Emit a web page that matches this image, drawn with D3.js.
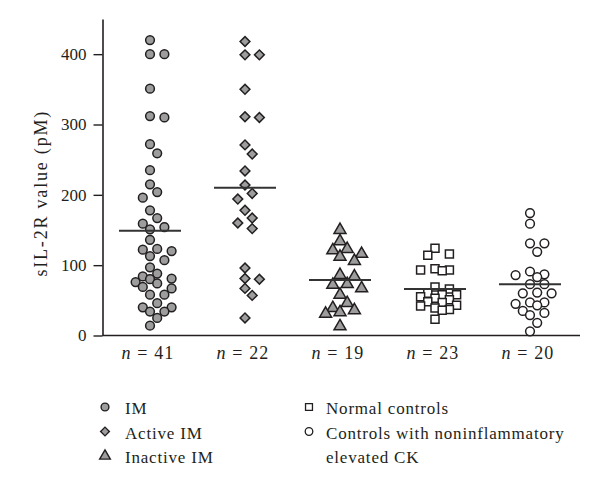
<!DOCTYPE html>
<html>
<head>
<meta charset="utf-8">
<script src="https://cdn.jsdelivr.net/npm/d3@7/dist/d3.min.js"></script>
<style>
  html, body { margin: 0; padding: 0; background: #fff; }
  svg { display: block; }
  text { font-family: "Liberation Serif", "Times New Roman", serif; fill: #231f20; }
</style>
</head>
<body>
<svg id="chart" width="600" height="489"></svg>
<script>
// ---------------- data ----------------
const groups = ["IM", "Active IM", "Inactive IM", "Normal controls", "Controls with noninflammatory elevated CK"];
const nCounts = [41, 22, 19, 23, 20];
const imValues = [420, 400, 400, 351, 312, 310, 272, 259, 235, 215, 204, 196, 178, 167, 159, 154, 151,
  136, 123, 122, 120, 113, 107, 97, 88, 84, 81, 80, 76, 74, 69, 67, 58, 58, 46, 40, 40, 34, 34, 25, 14];
const activeValues = [418, 399, 399, 350, 311, 310, 271, 258, 234, 214, 202, 194, 178, 167, 160, 152,
  96, 81, 80, 67, 57, 25];
const inactiveValues = [150, 134, 123, 121, 116, 112, 106, 86, 84, 73, 72, 67, 58, 46, 39, 36, 33, 31, 13];
const normalValues = [124, 116, 114, 95, 93, 93, 92, 69, 66, 60, 58, 58, 55, 53, 51, 48, 47, 43, 42, 39, 37, 36, 23];
const ckValues = [174, 159, 131, 131, 119, 91, 87, 86, 83, 73, 73, 61, 60, 60, 47, 47, 45, 43, 35, 32, 29, 18, 6];
const meanValues = [149, 210, 79, 66, 73];
const yTicks = [0, 100, 200, 300, 400];
const yTitle = "sIL-2R value (pM)";
const legendLeft = ["IM", "Active IM", "Inactive IM"];
const legendRight = [["Normal controls"], ["Controls with noninflammatory", "elevated CK"]];

const seriesValues = [imValues, activeValues, inactiveValues, normalValues, ckValues];

// ---------------- styles ----------------
const GRAY = "#9d9d9d";
const DARK = "#231f20";
const markerStyles = [
  { type: d3.symbolCircle, size: 60, rotate: 0, fill: GRAY },
  { type: d3.symbolSquare, size: 48, rotate: 45, fill: GRAY },
  { type: d3.symbolTriangle, size: 62, rotate: 0, fill: GRAY },
  { type: d3.symbolSquare, size: 64, rotate: 0, fill: "#fff" },
  { type: d3.symbolCircle, size: 60, rotate: 0, fill: "#fff" }
];

// ---------------- scales ----------------
const svg = d3.select("#chart");
const y = d3.scaleLinear().domain([0, 450]).range([335.5, 19]);
const x = d3.scaleBand().domain(groups).range([102.5, 577.5]);
const xAxisEnd = 580;

// y axis
const yAxis = d3.axisLeft(y).tickValues(yTicks).tickSize(9).tickSizeOuter(0).tickPadding(7);
const gy = svg.append("g").attr("transform", `translate(${x.range()[0]},0)`).call(yAxis);
gy.select(".domain").attr("stroke", DARK).attr("stroke-width", 1.6);
gy.selectAll(".tick line").attr("stroke", DARK).attr("stroke-width", 1.4);
gy.selectAll(".tick text").attr("font-size", 17).attr("font-family", "Liberation Serif").attr("fill", DARK);

// x axis baseline
const xAxis = d3.axisBottom(x).tickSize(0).tickSizeOuter(0).tickFormat("");
const gx = svg.append("g").attr("transform", `translate(0,${y(0)})`).call(xAxis);
gx.select(".domain").attr("d", `M${x.range()[0]},0H${xAxisEnd}`).attr("stroke", DARK).attr("stroke-width", 1.6);

// n labels
groups.forEach((g, i) => {
  const t = svg.append("text")
    .attr("x", x(g) + x.bandwidth() / 2 - 2)
    .attr("y", y(0) + 23)
    .attr("text-anchor", "middle")
    .attr("font-size", 18)
    .attr("letter-spacing", 1.1);
  t.append("tspan").attr("font-style", "italic").text("n");
  t.append("tspan").text(" = " + nCounts[i]);
});

// y title
svg.append("text")
  .attr("transform", `translate(47,${(y(0) + y(450)) / 2 + 16}) rotate(-90)`)
  .attr("text-anchor", "middle")
  .attr("font-size", 18)
  .attr("letter-spacing", 1.8)
  .text(yTitle);

// ---------------- beeswarm layout (columns, limited width) ----------------
const step = 7.2, minDist = 9.2;
const columnOrder = [0, 1, -1, 2, -2, 3];
function swarm(values, cx) {
  const pts = values.map(v => ({ v, y: y(v) })).sort((a, b) => a.y - b.y);
  const placed = [];
  pts.forEach(p => {
    let best = null, bestD = -1;
    for (const c of columnOrder) {
      const off = c * step;
      const dmin = placed.length ? d3.min(placed, q => Math.hypot(q.dx - off, q.y - p.y)) : Infinity;
      if (dmin >= minDist) { best = off; break; }
      if (dmin > bestD + 0.5) { bestD = dmin; best = off; }
    }
    p.dx = best;
    placed.push(p);
  });
  return pts.map(p => ({ x: cx + p.dx, y: p.y, v: p.v }));
}

function symbolPath(st) {
  return d3.symbol().type(st.type).size(st.size)();
}

groups.forEach((g, i) => {
  const cx = x(g) + x.bandwidth() / 2;
  const st = markerStyles[i];
  const pts = swarm(seriesValues[i], cx);
  svg.append("g").selectAll("path").data(pts).join("path")
    .attr("d", symbolPath(st))
    .attr("transform", d => `translate(${d.x},${d.y}) rotate(${st.rotate})`)
    .attr("fill", st.fill)
    .attr("stroke", DARK)
    .attr("stroke-width", 1.5);
  // mean line
  svg.append("line")
    .attr("x1", cx - 31).attr("x2", cx + 31)
    .attr("y1", y(meanValues[i])).attr("y2", y(meanValues[i]))
    .attr("stroke", "#333").attr("stroke-width", 2);
});

// ---------------- legend ----------------
const legendRows = [408, 432.5, 457];
const legendFont = 17;
legendLeft.forEach((lab, i) => {
  const st = markerStyles[i];
  svg.append("path")
    .attr("d", d3.symbol().type(st.type).size(st.size * 0.8)())
    .attr("transform", `translate(105,${legendRows[i] - 1}) rotate(${st.rotate})`)
    .attr("fill", st.fill).attr("stroke", DARK).attr("stroke-width", 1.4);
  svg.append("text").attr("x", 125).attr("y", legendRows[i] + 6)
    .attr("font-size", legendFont).attr("letter-spacing", 0.8).text(lab);
});
let row = 0;
legendRight.forEach((lines, j) => {
  const st = markerStyles[3 + j];
  svg.append("path")
    .attr("d", d3.symbol().type(st.type).size(st.size * 0.75)())
    .attr("transform", `translate(309,${legendRows[row] - 1}) rotate(${st.rotate})`)
    .attr("fill", st.fill).attr("stroke", DARK).attr("stroke-width", 1.3);
  lines.forEach(line => {
    svg.append("text").attr("x", 326).attr("y", legendRows[row] + 6)
      .attr("font-size", legendFont).attr("letter-spacing", 0.8).text(line);
    row++;
  });
});
</script>
</body>
</html>
